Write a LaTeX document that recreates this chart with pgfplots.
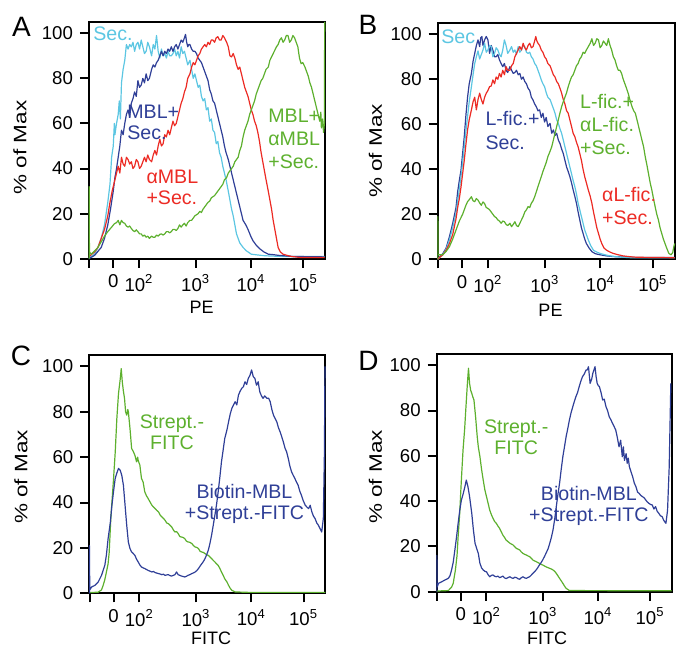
\documentclass[border=0pt]{standalone}
\usepackage{fontspec}
\setmainfont{Liberation Sans}
\usepackage{pgfplots}
\pgfplotsset{compat=1.18}

\definecolor{cSec}{HTML}{5CC6E2}
\definecolor{cNavy}{HTML}{2F3F97}
\definecolor{cRed}{HTML}{EC2B24}
\definecolor{cGreen}{HTML}{5DB02E}

\tikzset{lab/.style={inner sep=0pt, font=\fontsize{9.8}{10.5}\selectfont, align=left}}

% biexponential display scale: 10^k sits at x=k, "0" at 1.531
\pgfplotsset{
  facs/.style={
    scale only axis, anchor=south west,
    xmin=1.087, xmax=5.396, ymin=0, ymax=105,
    axis line style={line width=1pt},
    tick align=outside, tick pos=left,
    major tick length=4.5pt,
    every tick/.style={black, line width=1pt},
    xtick={1.093,1.531,2,3.035,4.045,5},
    xticklabels={,0,10\textsuperscript{2},10\textsuperscript{3},10\textsuperscript{4},10\textsuperscript{5}},
    ytick={0,20,40,60,80,100},
    tick label style={font=\fontsize{9.3}{10.5}\selectfont},
    /pgf/number format/assume math mode=true,
    clip=false,
    every axis plot/.append style={line width=0.6pt, line join=round},
  },
}

\begin{document}
\begin{tikzpicture}[font=\fontsize{9}{10.5}\selectfont]
\useasboundingbox (0,0) rectangle (338pt,-323pt);

% ---------------- A ----------------
\begin{axis}[facs, at={(44.5pt,-129.35pt)}, width=118pt, height=118.35pt]
\addplot[cSec] coordinates {(1.087,0.5) (1.19,2) (1.25,5) (1.31,9) (1.37,15) (1.43,25) (1.47,33) (1.50,45) (1.53,50) (1.55,60) (1.56,55) (1.59,60) (1.62,64) (1.64,70) (1.66,62) (1.68,78) (1.71,84) (1.74,88) (1.77,95) (1.80,93) (1.83,95) (1.86,94) (1.89,96) (1.92,92) (1.95,95) (1.98,96) (2.01,93) (2.04,97) (2.07,94) (2.10,91) (2.13,92) (2.16,96) (2.19,94) (2.23,90) (2.26,95) (2.29,93) (2.32,99) (2.35,92) (2.38,89) (2.41,93) (2.44,90) (2.47,91) (2.50,89) (2.53,92) (2.56,90) (2.59,90) (2.62,91) (2.65,93) (2.68,90) (2.71,92) (2.74,89) (2.77,94) (2.80,91) (2.83,92) (2.86,89) (2.89,86) (2.93,88) (2.96,84) (2.99,80) (3.02,82) (3.05,79) (3.08,76) (3.11,77) (3.14,72) (3.17,70) (3.20,71) (3.23,66) (3.26,67) (3.29,61) (3.32,62) (3.35,57) (3.38,56) (3.41,51) (3.44,52) (3.47,47) (3.50,45) (3.53,41) (3.56,38) (3.59,35) (3.63,30) (3.66,26) (3.69,22) (3.72,19) (3.75,15) (3.78,11) (3.81,9) (3.84,7) (3.90,5) (3.96,3.5) (4.05,2) (4.15,1.7) (4.3,1.3) (4.6,1) (5.0,1) (5.39,1)};
\addplot[cNavy] coordinates {(1.087,0) (1.19,1.5) (1.31,5) (1.37,9) (1.43,15) (1.48,22) (1.53,30) (1.56,36) (1.59,40) (1.62,45) (1.65,50) (1.68,57) (1.71,55) (1.74,60) (1.77,64) (1.80,66) (1.83,63) (1.86,69) (1.89,71) (1.92,74) (1.95,72) (1.98,79) (2.01,76) (2.04,77) (2.07,80) (2.10,78) (2.13,82) (2.16,79) (2.19,80) (2.23,84) (2.26,86) (2.29,85) (2.32,87) (2.35,88) (2.38,90) (2.41,92) (2.44,90) (2.47,92) (2.50,91) (2.53,93) (2.56,92) (2.59,94) (2.62,92) (2.65,94) (2.68,95) (2.71,93) (2.74,95) (2.77,97) (2.80,96) (2.83,98) (2.85,99.5) (2.87,96) (2.89,94) (2.91,95) (2.93,95) (2.96,93) (2.99,92) (3.02,92) (3.05,91) (3.08,89) (3.11,88) (3.14,87) (3.17,85) (3.20,83) (3.23,81) (3.26,79) (3.29,75) (3.32,73) (3.35,70) (3.38,69) (3.41,66) (3.44,63) (3.47,60) (3.50,57) (3.53,54) (3.56,50) (3.59,47) (3.63,44) (3.66,41) (3.69,38) (3.72,35) (3.75,32) (3.78,29) (3.81,26) (3.84,23) (3.87,20) (3.90,17) (3.95,15) (3.99,13) (4.04,10) (4.08,8) (4.14,6) (4.20,4.5) (4.28,3) (4.36,2) (4.45,1.8) (4.54,1.5) (4.8,1) (5.39,0.8)};
\addplot[cRed] coordinates {(1.087,1) (1.19,3) (1.25,5) (1.31,9) (1.37,13) (1.43,19) (1.47,25) (1.51,30) (1.56,35) (1.59,38) (1.62,41) (1.65,38) (1.68,45) (1.71,42) (1.74,41) (1.77,45) (1.80,44) (1.83,42) (1.86,43) (1.89,40) (1.92,41) (1.95,44) (1.98,43) (2.01,40) (2.04,41) (2.07,43) (2.10,45) (2.13,43) (2.16,46) (2.19,44) (2.23,43) (2.26,46) (2.29,48) (2.32,46) (2.35,50) (2.38,53) (2.41,50) (2.44,51) (2.47,55) (2.50,54) (2.53,57) (2.56,55) (2.59,58) (2.62,61) (2.65,59) (2.68,60) (2.71,63) (2.74,66) (2.77,69) (2.80,71) (2.83,74) (2.86,76) (2.89,80) (2.93,82) (2.96,85) (2.99,87) (3.02,86) (3.05,88) (3.08,90) (3.11,91) (3.14,93) (3.17,94) (3.20,95) (3.23,94) (3.26,96) (3.29,95) (3.32,97) (3.35,97) (3.38,96) (3.41,98) (3.44,98.5) (3.47,97) (3.50,97) (3.53,99) (3.56,98) (3.60,96) (3.63,94) (3.66,90) (3.69,89.5) (3.72,91) (3.75,89) (3.78,86) (3.81,84) (3.84,85) (3.87,82) (3.90,79) (3.93,76) (3.96,74) (3.99,72) (4.02,69) (4.05,66) (4.08,64) (4.11,61) (4.14,59) (4.17,56) (4.20,52) (4.23,47) (4.26,43) (4.29,39) (4.32,35) (4.36,30) (4.39,26) (4.42,22) (4.45,17) (4.48,13) (4.51,9) (4.54,5) (4.58,3) (4.63,2) (4.70,1.5) (4.78,1) (4.96,0.5) (5.39,0.5)};
\addplot[cGreen] coordinates {(1.090,0) (1.090,32) (1.095,3) (1.13,2) (1.19,3.5) (1.25,5) (1.31,7.5) (1.37,10) (1.43,12) (1.50,14) (1.55,15.5) (1.59,16) (1.62,17) (1.65,15) (1.68,17) (1.71,16) (1.74,15.7) (1.77,14.5) (1.80,14) (1.83,14.5) (1.86,13.4) (1.89,12.5) (1.92,12) (1.95,12.8) (1.98,12) (2.01,11) (2.04,11) (2.07,10) (2.10,10.5) (2.13,9.5) (2.16,10) (2.19,9) (2.23,10) (2.26,9.5) (2.29,9.5) (2.32,10.5) (2.35,10) (2.38,10.8) (2.41,11) (2.44,10.5) (2.47,11) (2.50,12) (2.53,12) (2.56,11.5) (2.59,12) (2.62,13) (2.65,13) (2.68,12.5) (2.71,13.4) (2.74,15) (2.77,14) (2.80,15) (2.83,15.7) (2.86,14.5) (2.89,16) (2.93,17) (2.96,17) (2.99,18) (3.02,19) (3.05,19.5) (3.08,20) (3.11,21) (3.14,20.5) (3.17,22) (3.20,23) (3.23,24) (3.26,25) (3.29,25.5) (3.32,27) (3.35,27.5) (3.38,28) (3.41,29) (3.44,30) (3.47,31) (3.50,32) (3.53,33) (3.56,35) (3.60,36) (3.63,38) (3.66,39) (3.69,40) (3.72,41) (3.75,43) (3.78,44) (3.81,45) (3.84,48) (3.87,50) (3.90,54) (3.93,57) (3.96,59) (3.99,61) (4.02,64) (4.05,66) (4.08,68) (4.11,70) (4.14,73) (4.17,75) (4.20,77) (4.23,79) (4.26,80) (4.29,82) (4.32,84) (4.36,85) (4.39,88) (4.42,89.5) (4.45,91) (4.48,92.5) (4.51,94) (4.54,95) (4.57,97) (4.60,98) (4.63,96) (4.66,97) (4.69,99) (4.72,99) (4.75,96) (4.78,97) (4.81,99) (4.84,98) (4.87,96) (4.90,94) (4.93,89) (4.96,86.5) (4.99,87) (5.03,85) (5.06,83) (5.09,81) (5.12,78) (5.15,76) (5.18,73) (5.21,70) (5.24,67) (5.27,64) (5.30,61) (5.32,65) (5.33,58) (5.35,62) (5.37,56) (5.385,60) (5.39,105)};
\node[lab, cSec, anchor=west] at (axis cs:1.16,100) {Sec.};
\node[lab, cNavy, anchor=west] at (axis cs:1.78,60.6) {MBL+\\Sec.};
\node[lab, cRed, anchor=west] at (axis cs:2.13,31.5) {αMBL\\+Sec.};
\node[lab, cGreen, anchor=west, font=\fontsize{9.8}{11.5}\selectfont] at (axis cs:4.355,53) {MBL+\\αMBL\\+Sec.};
\end{axis}

% ---------------- B ----------------
\begin{axis}[facs, at={(218.85pt,-129.65pt)}, width=118.5pt, height=118.15pt]
\addplot[cNavy] coordinates {(1.087,0) (1.12,1) (1.18,2.5) (1.24,5) (1.30,10) (1.36,16) (1.42,23) (1.45,30) (1.48,35) (1.51,39.5) (1.54,47) (1.57,54.5) (1.60,64) (1.63,72) (1.66,78) (1.70,82.6) (1.73,88) (1.76,91.5) (1.79,95) (1.82,97.5) (1.85,94.5) (1.87,98.5) (1.89,99) (1.91,95) (1.94,97.5) (1.97,99) (2.00,97.5) (2.03,91.5) (2.06,95) (2.09,93) (2.12,90) (2.15,90) (2.18,91) (2.21,88.6) (2.24,87) (2.27,85.6) (2.30,87) (2.33,84) (2.36,83) (2.40,85.6) (2.43,84) (2.46,82.6) (2.49,83) (2.52,84) (2.55,82) (2.58,82.6) (2.61,80) (2.64,81) (2.67,79) (2.70,78) (2.73,76) (2.76,75) (2.79,72) (2.82,70.8) (2.85,69) (2.88,67.8) (2.91,66) (2.94,66.4) (2.97,63) (3.00,64.9) (3.03,61) (3.06,63) (3.09,59) (3.13,60.4) (3.16,56) (3.19,57.5) (3.22,55) (3.25,56) (3.28,53) (3.31,51.5) (3.34,49) (3.37,47) (3.40,44) (3.43,41) (3.46,39) (3.49,36.7) (3.52,34) (3.55,30.8) (3.58,28) (3.61,24.9) (3.64,21) (3.67,17.5) (3.70,14) (3.73,11.5) (3.76,9) (3.79,7) (3.84,5) (3.89,3.4) (3.95,2.5) (4.04,2) (4.16,1.5) (4.28,1.2) (4.7,0.8) (5.396,0.8)};
\addplot[cSec] coordinates {(1.087,0) (1.12,0.8) (1.18,2) (1.24,4.5) (1.30,8.6) (1.36,14) (1.42,20.4) (1.45,26) (1.48,31) (1.51,36.7) (1.54,43) (1.57,50) (1.60,57) (1.63,63.4) (1.66,70) (1.70,76.7) (1.73,82) (1.76,87) (1.79,90) (1.82,92.6) (1.85,89) (1.88,91) (1.91,93) (1.94,96) (1.97,92) (2.00,93) (2.03,95) (2.06,94.5) (2.09,90) (2.12,91.5) (2.15,94) (2.18,93) (2.21,91) (2.24,90) (2.27,93) (2.30,97.5) (2.33,95) (2.36,91.5) (2.40,93) (2.43,94.5) (2.46,92) (2.49,93) (2.52,91) (2.55,94.5) (2.58,92) (2.61,93) (2.64,95) (2.67,94.5) (2.70,92) (2.73,91.5) (2.76,92) (2.79,90) (2.82,89) (2.85,87) (2.88,86) (2.91,84) (2.94,82) (2.97,79.7) (3.00,78) (3.03,76.7) (3.06,74) (3.09,72) (3.13,71) (3.16,69) (3.19,67) (3.22,64.9) (3.25,62) (3.28,60.4) (3.31,58) (3.34,56) (3.37,53) (3.40,50) (3.43,47) (3.46,44) (3.49,41) (3.52,38) (3.55,35) (3.58,32.3) (3.61,29) (3.64,24.9) (3.67,22) (3.70,19) (3.73,16) (3.76,13) (3.79,11) (3.825,8.6) (3.87,6) (3.92,4) (3.98,3.2) (4.04,2.6) (4.13,2) (4.22,1.5) (4.4,1) (4.6,0.7) (5.396,0.7)};
\addplot[cRed] coordinates {(1.087,0) (1.12,0.8) (1.18,2) (1.24,4) (1.30,7) (1.36,11) (1.39,14.5) (1.42,18) (1.45,23) (1.48,27) (1.51,32) (1.54,38) (1.57,44) (1.60,51) (1.63,57.5) (1.66,62) (1.70,66.4) (1.73,70) (1.76,72) (1.79,66.4) (1.82,71) (1.85,73.8) (1.88,71) (1.91,69) (1.94,72) (1.97,73.8) (2.00,75) (2.03,76.7) (2.06,77) (2.09,79.7) (2.12,78) (2.15,81) (2.18,80) (2.21,82.6) (2.24,81) (2.27,84) (2.30,82) (2.33,85.6) (2.36,84) (2.40,84) (2.43,86) (2.46,87) (2.49,90) (2.52,91.5) (2.55,93) (2.58,94.5) (2.61,93) (2.64,96) (2.67,94) (2.70,93) (2.73,95) (2.76,96) (2.79,94) (2.82,94.5) (2.85,97) (2.87,99) (2.89,97) (2.91,96) (2.94,95) (2.97,93) (3.00,92) (3.03,90) (3.06,89) (3.09,87) (3.13,86) (3.16,84) (3.19,82) (3.22,81) (3.25,79) (3.28,78) (3.31,76) (3.34,73.8) (3.37,71) (3.40,69) (3.43,66) (3.46,64.9) (3.49,62) (3.52,59) (3.55,56) (3.58,54.5) (3.61,52) (3.64,50) (3.67,47) (3.70,44) (3.73,40) (3.76,36.7) (3.79,34) (3.825,30.8) (3.86,28) (3.89,24.9) (3.92,21) (3.95,17.5) (3.98,14) (4.01,11.5) (4.04,9) (4.07,7) (4.11,5) (4.16,4) (4.22,3.2) (4.28,2.6) (4.37,2) (4.46,1.5) (4.6,1.1) (4.71,0.9) (5.396,0.7)};
\addplot[cGreen] coordinates {(1.090,0) (1.090,19) (1.095,2) (1.18,2) (1.24,3.5) (1.30,5.6) (1.36,9) (1.42,13) (1.48,17) (1.54,20) (1.60,24) (1.63,25.6) (1.66,26.5) (1.70,27.8) (1.73,26) (1.76,25.6) (1.79,27) (1.82,26.3) (1.85,25) (1.88,24) (1.91,25.5) (1.94,24.7) (1.97,23) (2.00,22.6) (2.03,22) (2.06,21) (2.09,20) (2.12,19) (2.15,18.5) (2.18,17.5) (2.21,17) (2.24,16) (2.27,17) (2.30,16.7) (2.33,15.5) (2.36,15) (2.40,16) (2.43,14.5) (2.46,15.5) (2.49,16.7) (2.52,15) (2.55,14.5) (2.58,16) (2.61,17.5) (2.64,19) (2.67,21) (2.70,22) (2.73,23.4) (2.76,23) (2.79,24.9) (2.82,26) (2.85,27.8) (2.88,30) (2.91,32.3) (2.94,34.5) (2.97,36.7) (3.00,39) (3.03,41) (3.06,43) (3.09,45.6) (3.13,48) (3.16,50) (3.19,53) (3.22,56) (3.25,59) (3.28,62) (3.31,65) (3.34,67.8) (3.37,70) (3.40,72) (3.43,74) (3.46,76.7) (3.49,79) (3.52,81) (3.55,82) (3.58,84) (3.61,86) (3.64,87) (3.67,89) (3.70,90) (3.73,92) (3.76,91.5) (3.79,93) (3.825,94.5) (3.86,96) (3.89,98) (3.92,95) (3.95,96) (3.98,98) (4.01,97.5) (4.04,94) (4.07,95) (4.10,97) (4.13,96) (4.16,95) (4.19,98) (4.22,95) (4.25,93) (4.28,90) (4.31,88.6) (4.34,86) (4.37,84) (4.40,84) (4.43,82.6) (4.46,80) (4.49,78) (4.52,76) (4.55,73.8) (4.58,71) (4.62,67.8) (4.65,66) (4.68,64.9) (4.71,62) (4.74,59) (4.77,56) (4.80,53) (4.83,50) (4.86,45.6) (4.89,42) (4.92,38) (4.95,34) (4.98,30.8) (5.01,27) (5.04,23.4) (5.07,20) (5.10,17.5) (5.13,14) (5.16,11.5) (5.19,9) (5.22,7) (5.25,5) (5.29,2.6) (5.33,2) (5.36,3) (5.38,5.6) (5.396,7)};
\node[lab, cSec, anchor=west] at (axis cs:1.147,99) {Sec};
\node[lab, cNavy, anchor=west, font=\fontsize{9.8}{12}\selectfont] at (axis cs:1.95,57.2) {L-fic.+\\Sec.};
\node[lab, cGreen, anchor=west, font=\fontsize{9.8}{11.5}\selectfont] at (axis cs:3.67,60.1) {L-fic.+\\αL-fic.\\+Sec.};
\node[lab, cRed, anchor=west, font=\fontsize{9.8}{11.5}\selectfont] at (axis cs:4.07,23.5) {αL-fic.\\+Sec.};
\end{axis}

% ---------------- C ----------------
\begin{axis}[facs, at={(44.65pt,-296.65pt)}, width=118pt, height=119.15pt]
\addplot[cGreen] coordinates {(1.087,0.3) (1.25,0.5) (1.31,1.5) (1.34,3.5) (1.37,6) (1.40,9.4) (1.43,13) (1.45,18) (1.48,33) (1.53,50.6) (1.56,62) (1.59,77) (1.62,88) (1.65,94) (1.67,99) (1.69,93) (1.71,89) (1.73,85.9) (1.75,80) (1.77,78.5) (1.79,81) (1.80,80) (1.83,72.6) (1.86,63.8) (1.89,62.5) (1.92,60.8) (1.95,57.9) (1.97,60) (1.98,58.5) (2.01,56.5) (2.04,50.6) (2.07,49) (2.10,44.7) (2.13,43) (2.16,41.8) (2.19,40.5) (2.23,38.8) (2.26,38) (2.29,37.3) (2.32,36.5) (2.35,35.9) (2.38,34.5) (2.41,33.7) (2.44,33) (2.47,32.2) (2.50,31) (2.53,30.7) (2.56,30) (2.59,29.3) (2.62,28) (2.65,27) (2.68,27.2) (2.71,26.3) (2.74,25) (2.77,24.8) (2.80,24.6) (2.83,24.1) (2.86,23) (2.89,22.6) (2.92,22.5) (2.96,21.9) (2.99,21) (3.02,20.4) (3.05,20.2) (3.08,19.7) (3.11,18.5) (3.14,18.2) (3.17,18) (3.20,17.5) (3.23,17) (3.26,16.7) (3.29,16) (3.32,15.3) (3.35,14.5) (3.38,13.8) (3.41,13) (3.44,12.3) (3.47,11) (3.50,9.4) (3.53,8) (3.56,6.4) (3.60,5) (3.63,3.5) (3.66,2.2) (3.69,1.3) (3.75,0.6) (4.0,0.4) (5.396,0.4)};
\addplot[cNavy] coordinates {(1.090,0) (1.090,21) (1.095,1.5) (1.13,2.8) (1.19,3.5) (1.25,5) (1.31,7.9) (1.37,12.3) (1.40,17) (1.43,24) (1.47,31) (1.50,38.8) (1.53,45) (1.56,50.6) (1.59,53) (1.62,55) (1.65,54.3) (1.68,52) (1.71,47.6) (1.74,38.8) (1.77,30) (1.80,22.6) (1.83,19.7) (1.86,18.2) (1.89,17.5) (1.92,16.7) (1.95,15) (1.98,13.8) (2.01,12.5) (2.04,11.6) (2.07,11.2) (2.10,10.9) (2.13,10.5) (2.16,10.1) (2.19,9.8) (2.23,9.4) (2.26,9.6) (2.29,9.1) (2.32,8.9) (2.35,8.7) (2.38,8.5) (2.41,8.2) (2.44,8.4) (2.47,7.9) (2.50,8.1) (2.53,8.2) (2.56,7.8) (2.59,7.6) (2.62,7.9) (2.65,8.2) (2.68,9.4) (2.71,8.2) (2.74,7.9) (2.77,7.6) (2.80,7.4) (2.83,7.2) (2.86,7.5) (2.89,7.9) (2.93,8.3) (2.96,8.7) (2.99,9) (3.02,9.4) (3.05,10) (3.08,10.9) (3.11,12) (3.14,13) (3.17,14) (3.20,15.3) (3.23,17) (3.26,19) (3.29,22) (3.32,25.6) (3.35,30) (3.38,34.4) (3.41,39) (3.44,44.7) (3.47,51) (3.50,57.9) (3.53,63) (3.56,68.2) (3.60,72) (3.63,75.6) (3.66,79) (3.69,81.5) (3.72,83) (3.75,84.4) (3.78,83) (3.81,87.3) (3.84,89) (3.87,90.3) (3.90,91) (3.93,93.2) (3.96,92) (3.99,94.7) (4.02,96) (4.05,98.4) (4.08,95.5) (4.11,94.7) (4.14,91.7) (4.17,93.2) (4.20,88.8) (4.23,87) (4.26,85.9) (4.29,87) (4.33,85.9) (4.36,86) (4.39,84.4) (4.42,81) (4.45,78.5) (4.48,77) (4.51,75.6) (4.54,73) (4.57,71.2) (4.60,69) (4.63,66.7) (4.66,64) (4.69,62.3) (4.72,59.4) (4.75,56) (4.78,53.5) (4.81,52) (4.84,50.6) (4.87,49) (4.90,47.6) (4.93,45) (4.96,43.2) (4.99,41) (5.03,38.8) (5.06,38) (5.09,37.3) (5.12,38.8) (5.15,35.9) (5.18,34) (5.21,32.9) (5.24,31) (5.27,30) (5.30,28.5) (5.33,27) (5.36,32.9) (5.38,62) (5.39,100)};
\node[lab, cGreen, anchor=center, align=center] at (axis cs:2.597,71) {Strept.-\\FITC};
\node[lab, cNavy, anchor=center, align=center] at (axis cs:3.92,39.4) {Biotin-MBL\\+Strept.-FITC};
\end{axis}

% ---------------- D ----------------
\begin{axis}[facs, at={(218.35pt,-295.85pt)}, width=117.5pt, height=118.85pt]
\addplot[cGreen] coordinates {(1.087,0.3) (1.30,0.5) (1.36,2) (1.39,3.7) (1.43,9.6) (1.46,16) (1.48,24.3) (1.51,35) (1.53,45) (1.55,54) (1.57,62.6) (1.60,72) (1.62,80.3) (1.65,92) (1.67,98.7) (1.69,92) (1.71,89) (1.73,87.6) (1.75,86) (1.77,84.7) (1.80,77.3) (1.83,68.5) (1.85,64) (1.88,59.6) (1.91,54) (1.94,49.3) (1.97,45) (2.00,42) (2.03,39) (2.06,36) (2.09,34) (2.12,32.4) (2.15,31) (2.18,30.2) (2.21,29) (2.24,28) (2.27,26.5) (2.30,25) (2.33,24) (2.36,22.8) (2.40,22) (2.43,21.4) (2.46,21) (2.49,20.6) (2.52,19.8) (2.55,19.1) (2.58,18.8) (2.61,18.4) (2.64,17.5) (2.67,16.9) (2.70,16.5) (2.73,16.2) (2.76,15.8) (2.79,15.5) (2.82,14.8) (2.85,14) (2.88,13.6) (2.91,13.3) (2.94,12.9) (2.97,12.5) (3.00,12.1) (3.03,11.8) (3.06,11.4) (3.09,11) (3.13,10.6) (3.16,10.3) (3.19,10) (3.22,9.6) (3.25,9) (3.28,8.1) (3.31,7) (3.34,5.9) (3.37,4.8) (3.40,3.7) (3.43,2.5) (3.46,1.5) (3.52,0.5) (5.396,0.4)};
\addplot[cNavy] coordinates {(1.090,0) (1.090,16) (1.095,2) (1.12,3.7) (1.18,4.4) (1.24,5.2) (1.30,5.9) (1.33,7) (1.36,9.6) (1.39,13) (1.42,18.4) (1.45,24) (1.48,30.2) (1.51,36) (1.54,40.5) (1.57,43) (1.59,45) (1.61,47) (1.63,49.3) (1.66,46.4) (1.69,42) (1.73,34.6) (1.76,27.3) (1.79,21.4) (1.82,19.1) (1.85,16.9) (1.88,12.5) (1.91,10.5) (1.94,9.6) (1.97,9) (2.00,8.8) (2.03,7.5) (2.06,6.6) (2.09,7.2) (2.12,7.4) (2.15,6.8) (2.18,6.6) (2.21,6.9) (2.24,6.2) (2.27,6.5) (2.30,6.9) (2.33,6.1) (2.36,5.8) (2.40,6.3) (2.43,6.6) (2.46,6.1) (2.49,5.9) (2.52,6.4) (2.55,6.2) (2.58,5.7) (2.61,5.5) (2.64,6.2) (2.67,6.6) (2.70,6.1) (2.73,5.9) (2.76,6.3) (2.79,6.6) (2.82,7.3) (2.85,8.1) (2.88,8.8) (2.91,9.6) (2.94,10.6) (2.97,11.8) (3.00,12.8) (3.03,14) (3.06,15.4) (3.09,16.9) (3.13,19) (3.16,21.4) (3.19,24) (3.22,27.3) (3.25,32) (3.28,37.6) (3.31,43) (3.34,47.9) (3.37,54) (3.40,59.6) (3.43,64) (3.46,68.5) (3.49,72) (3.52,75.8) (3.55,79) (3.58,81.5) (3.61,84) (3.64,86.2) (3.67,88) (3.70,90.6) (3.73,93) (3.76,95) (3.79,96) (3.825,97.9) (3.85,98) (3.87,99.4) (3.90,92) (3.93,94) (3.95,96.5) (3.97,98) (3.99,99.4) (4.01,95) (4.03,92) (4.05,91) (4.07,90.6) (4.10,88) (4.13,84.7) (4.16,85) (4.19,81.8) (4.22,80) (4.25,77.3) (4.28,76) (4.31,74.4) (4.34,73) (4.37,71.4) (4.40,68) (4.43,64) (4.46,66.9) (4.49,59.6) (4.51,64) (4.53,58) (4.56,61) (4.58,56.7) (4.60,59) (4.62,55.2) (4.65,53) (4.68,50.8) (4.71,48) (4.74,46.4) (4.77,44) (4.80,43.4) (4.83,42.5) (4.86,42) (4.89,41.5) (4.92,40.5) (4.95,39.6) (4.98,39) (5.01,38.5) (5.04,38.3) (5.07,36.5) (5.10,37.6) (5.13,35.5) (5.16,34.6) (5.19,33.5) (5.22,33.2) (5.25,31.5) (5.29,30.2) (5.32,36) (5.35,55) (5.38,92)};
\node[lab, cGreen, anchor=center, align=center] at (axis cs:2.544,68.3) {Strept.-\\FITC};
\node[lab, cNavy, anchor=center, align=center] at (axis cs:3.877,38) {Biotin-MBL\\+Strept.-FITC};
\end{axis}

% panel letters and axis titles
\node[font=\fontsize{14}{16}\selectfont] at (10.75pt,-13.5pt) {A};
\node[font=\fontsize{14}{16}\selectfont] at (184pt,-12.5pt) {B};
\node[font=\fontsize{14}{16}\selectfont] at (10.5pt,-178pt) {C};
\node[font=\fontsize{14}{16}\selectfont] at (184.25pt,-180.5pt) {D};
\node[rotate=90] at (10pt,-73.75pt) {\scalebox{1.25}[1]{\% of Max}};
\node[rotate=90] at (187.75pt,-75.5pt) {\scalebox{1.25}[1]{\% of Max}};
\node[rotate=90] at (10.5pt,-238.5pt) {\scalebox{1.25}[1]{\% of Max}};
\node[rotate=90] at (187.75pt,-238.5pt) {\scalebox{1.25}[1]{\% of Max}};
\node at (100.85pt,-153.85pt) {PE};
\node at (275.25pt,-155pt) {PE};
\node at (105.5pt,-319.3pt) {FITC};
\node at (273.5pt,-319.3pt) {FITC};
\end{tikzpicture}
\end{document}
